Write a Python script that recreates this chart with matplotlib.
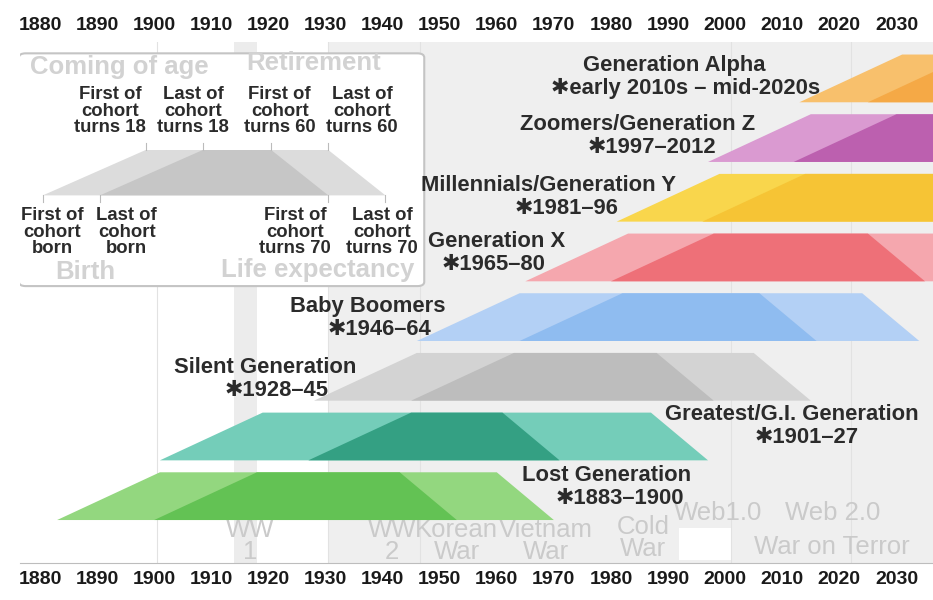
import matplotlib
matplotlib.use('Agg')
from matplotlib import pyplot as plt
from matplotlib.patches import FancyBboxPatch

plt.rcParams['font.family'] = ['Liberation Sans', 'DejaVu Sans']

# generations, oldest first
names = ['Lost Generation', 'Greatest/G.I. Generation', 'Silent Generation',
         'Baby Boomers', 'Generation X', 'Millennials/Generation Y',
         'Zoomers/Generation Z', 'Generation Alpha']
born_first = [1883, 1901, 1928, 1946, 1965, 1981, 1997, 2013]
born_last = [1900, 1927, 1945, 1964, 1980, 1996, 2012, 2025]
born_text = ['1883–1900', '1901–27', '1928–45', '1946–64', '1965–80',
             '1981–96', '1997–2012', 'early 2010s – mid-2020s']
light_colors = ['#93d77f', '#74cdb9', '#d3d3d3', '#b3d0f5',
                '#f5a7ae', '#f9d64c', '#da9ad1', '#f8c06c']
dark_colors = ['#63c254', '#34a083', '#bdbdbd', '#8fbcf0',
               '#ee7078', '#f6c435', '#bc60af', '#f5a946']
ages = (18, 60, 70)   # coming of age, retirement, life expectancy

# label layout (years / rows)
title_x = [1979.3, 2011.7, 1919.4, 1937.4, 1960.0, 1969.0, 1984.6, 1991.0]
sub_x = [1981.6, 2014.3, 1921.5, 1939.5, 1959.5, 1972.3, 1987.2, 1993.1]
title_dy = [0.75, 0.76, 0.56, 0.57, 0.66, 0.61, 0.62, 0.62]

# historical events shown in the background
event_names = ['WW\n1', 'WW\n2', 'Korean\nWar', 'Vietnam\nWar', 'Cold\nWar',
               'Web1.0', 'Web 2.0', 'War on Terror']
event_x = [1916.8, 1941.6, 1953.0, 1968.6, 1985.6, 1998.7, 2018.9, 2018.7]
event_y = [-0.35, -0.35, -0.35, -0.35, -0.30, 0.12, 0.12, -0.45]

decades = list(range(1880, 2031, 10))

band_h = 0.8


def cohort(ax, first, last, y0, h, a, light, dark, z=2):
    a1, a2, a3 = a
    union = [(first, y0), (first + a1, y0 + h), (last + a2, y0 + h), (last + a3, y0)]
    inter = [(last, y0), (last + a1, y0 + h), (first + a2, y0 + h), (first + a3, y0)]
    xs, ys = zip(*union)
    ax.fill(xs, ys, color=light, lw=0, zorder=z)
    xs, ys = zip(*inter)
    ax.fill(xs, ys, color=dark, lw=0, zorder=z + 0.1)


fig = plt.figure(figsize=(9.33, 6.0), dpi=100)
ax = fig.add_axes([20 / 933, 37 / 600, 913 / 933, 521 / 600])
ax.set_xlim(1876.5, 2036.4)
ax.set_ylim(-0.72, 8.01)

# background shading
ax.axvspan(1914, 1918, color='#ececec', lw=0, zorder=0)
ax.axvspan(1930.5, 2040, color='#efefef', lw=0, zorder=0)
ax.axvspan(1992, 2001, ymin=0.006, ymax=0.067, color='white', lw=0, zorder=0.5)
for xv in [1900.5, 1930.5, 1946.5, 2001, 2022]:
    ax.axvline(xv, color='#e2e2e2', lw=0.8, zorder=0.6)

for nm, ex, ey in zip(event_names, event_x, event_y):
    ax.text(ex, ey, nm, ha='center', va='center', fontsize=18.5,
            color='#cacaca', linespacing=0.9, zorder=1)

for i in range(len(names)):
    cohort(ax, born_first[i], born_last[i], i, band_h, ages,
           light_colors[i], dark_colors[i])
    ax.text(title_x[i], i + title_dy[i], names[i], ha='center', va='center',
            fontsize=15.8, fontweight='bold', color='#2b2b2b', zorder=6)
    ax.text(sub_x[i], i + title_dy[i] - 0.385, '✱' + born_text[i],
            ha='center', va='center', fontsize=15.8, fontweight='bold',
            color='#2b2b2b', zorder=6)

# explanatory inset
box = FancyBboxPatch((1876.3, 3.92), 71.0, 3.9,
                     boxstyle='round,pad=0,rounding_size=1.2',
                     mutation_aspect=0.06, facecolor='white',
                     edgecolor='#c4c4c4', lw=1.5, zorder=3)
ax.add_patch(box)
cohort(ax, 1880.5, 1890.5, 5.44, 0.76, (18, 40, 50), '#dcdcdc', '#c6c6c6', z=4)

top_lbl = ['First of\ncohort\nturns 18', 'Last of\ncohort\nturns 18',
           'First of\ncohort\nturns 60', 'Last of\ncohort\nturns 60']
top_lx = [1892.3, 1906.8, 1922.0, 1936.4]
top_vx = [1898.5, 1908.5, 1920.5, 1930.5]
bot_lbl = ['First of\ncohort\nborn', 'Last of\ncohort\nborn',
           'First of\ncohort\nturns 70', 'Last of\ncohort\nturns 70']
bot_lx = [1882.1, 1895.2, 1924.7, 1939.9]
bot_vx = [1880.5, 1890.5, 1930.5, 1940.5]
for t, lx, vx in zip(top_lbl, top_lx, top_vx):
    ax.text(lx, 6.85, t, ha='center', va='center', fontsize=13.3,
            fontweight='bold', color='#2b2b2b', linespacing=0.96, zorder=5)
    ax.plot([vx, vx], [6.2, 6.31], color='#bbbbbb', lw=0.8, zorder=5)
for t, lx, vx in zip(bot_lbl, bot_lx, bot_vx):
    ax.text(lx, 4.82, t, ha='center', va='center', fontsize=13.3,
            fontweight='bold', color='#2b2b2b', linespacing=0.96, zorder=5)
    ax.plot([vx, vx], [5.33, 5.44], color='#bbbbbb', lw=0.8, zorder=5)

ax.text(1878.2, 7.59, 'Coming of age', ha='left', va='center', fontsize=18.5,
        fontweight='bold', color='#d2d2d2', zorder=5)
ax.text(1927.9, 7.65, 'Retirement', ha='center', va='center', fontsize=18.5,
        fontweight='bold', color='#d2d2d2', zorder=5)
ax.text(1887.9, 4.15, 'Birth', ha='center', va='center', fontsize=18.5,
        fontweight='bold', color='#d2d2d2', zorder=5)
ax.text(1928.7, 4.19, 'Life expectancy', ha='center', va='center', fontsize=18.5,
        fontweight='bold', color='#d2d2d2', zorder=5)

# axes
ax.set_xticks(decades)
ax.set_xticklabels([str(d) for d in decades])
ax.set_yticks([])
ax.tick_params(axis='x', length=0, top=True, labeltop=True, pad=5.5,
               labelsize=14, labelcolor='#1a1a1a')
for lbl in ax.get_xticklabels():
    lbl.set_fontweight('bold')
for s in ['top', 'left', 'right']:
    ax.spines[s].set_visible(False)
ax.spines['bottom'].set_color('#bdbdbd')

plt.savefig('out.png', dpi=100, facecolor='white')
